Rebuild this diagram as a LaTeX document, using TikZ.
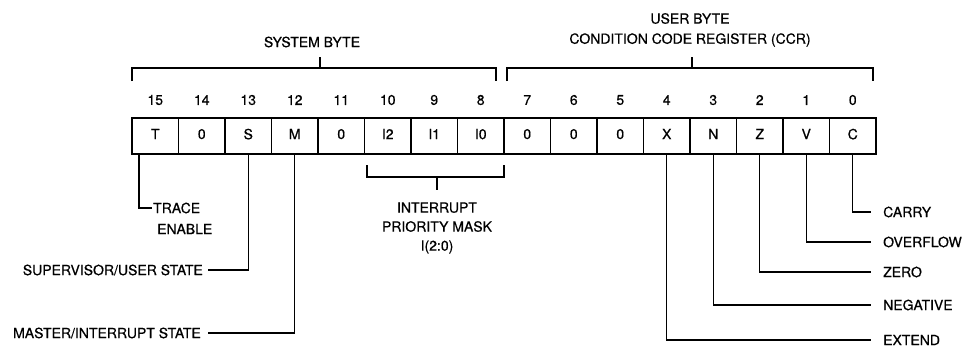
\documentclass[tikz,border=0pt]{standalone}
\usepackage{fontspec}
\setmainfont[FakeBold=0.6]{TeX Gyre Heros}
\begin{document}
\begin{tikzpicture}[x=1pt,y=-1pt,
  every node/.style={font=\fontsize{14}{16}\selectfont, inner sep=0pt},
  cell/.style={draw, line width=1.5pt, minimum width=46.5pt, minimum height=36pt, text depth=4pt},
  bitnum/.style={},
  wire/.style={line width=1.2pt},
  lbl/.style={align=center}]
\useasboundingbox (0,0) rectangle (966,348);
% cells
\foreach \t [count=\k from 0] in {T,0,S,M,0,I2,I1,I0,0,0,0,X,N,Z,V,C}{
  \pgfmathtruncatemacro{\b}{15-\k}
  \node[cell] (c\b) at ({132+46.5*\k+23.25},136) {\t};
  \node[bitnum] (n\b) at ({132+46.5*\k+23.25},100) {\b};
}
% system byte bracket
\coordinate (sbL) at (132,81);
\coordinate (sbR) at (496,81);
\coordinate (sbM) at (320,68);
\draw[wire] (sbL) |- (sbR |- sbM) -- (sbR);
\node (sb) at (312,42) {SYSTEM BYTE};
\draw[wire] (sbM) -- ++(0,-11);
% user byte bracket
\coordinate (ubL) at (507,81);
\coordinate (ubR) at (873,81);
\coordinate (ubM) at (692,68);
\draw[wire] (ubL) |- (ubR |- ubM) -- (ubR);
\draw[wire] (ubM) -- ++(0,-11);
\node (ub) at (690,18.5) {USER BYTE};
\node (ccr) at (690,40) {CONDITION CODE REGISTER (CCR)};
% interrupt mask bracket
\coordinate (imL) at (367,165);
\coordinate (imR) at (504,165);
\coordinate (imM) at (437,177);
\draw[wire] (imL) |- (imR |- imM) -- (imR);
\draw[wire] (imM) -- ++(0,13);
\node[lbl] (im) at (437,228) {INTERRUPT\\[3pt]PRIORITY MASK\\[3pt]I(2:0)};
% left leaders
\coordinate (tT) at (139,154);
\coordinate (tE) at (152,208);
\node[anchor=west] (trace) at (153,208) {TRACE};
\node[anchor=west] (enable) at (157,229) {ENABLE};
\draw[wire] (tT) |- (tE);
\coordinate (sE) at (208,270);
\node[anchor=east] (sup) at (203,270) {SUPERVISOR/USER STATE};
\draw[wire] (c13.south) |- (sE);
\coordinate (mE) at (208,333);
\node[anchor=east] (mas) at (201,333) {MASTER/INTERRUPT STATE};
\draw[wire] (c12.south) |- (mE);
% right leaders
\foreach \b/\y/\t/\n in {0/212/CARRY/carry,1/242/OVERFLOW/ovf,2/272/ZERO/zero,3/305/NEGATIVE/neg,4/340/EXTEND/ext}{
  \coordinate (e\b) at (871,\y);
  \node[anchor=west] (\n) at (883,\y) {\t};
  \draw[wire] (c\b.south) |- (e\b);
}
\end{tikzpicture}
\end{document}
